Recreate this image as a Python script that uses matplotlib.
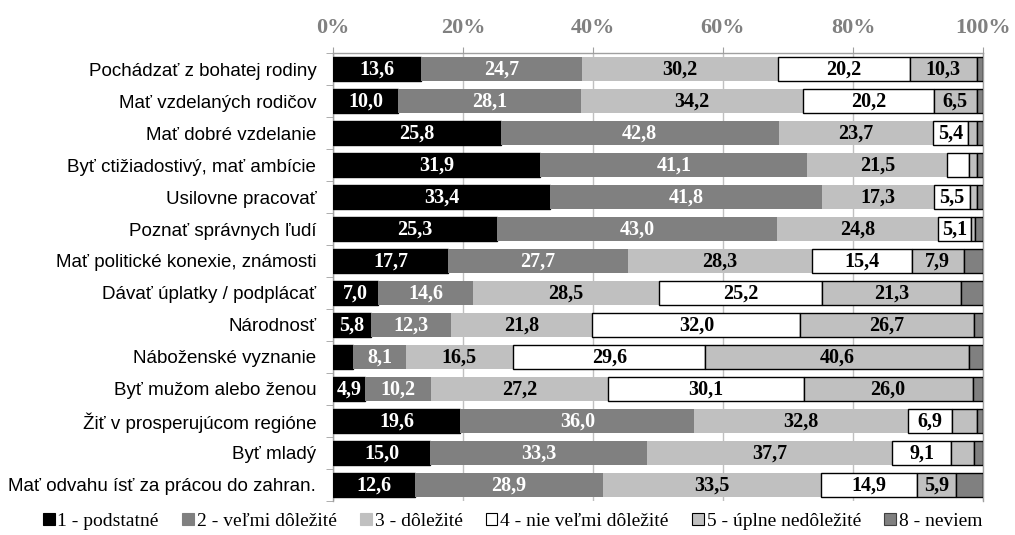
import matplotlib
matplotlib.use("Agg")
import matplotlib.pyplot as plt
from matplotlib.patches import Patch
import numpy as np

categories = [
    "Pochádzať z bohatej rodiny",
    "Mať vzdelaných rodičov",
    "Mať dobré vzdelanie",
    "Byť ctižiadostivý, mať ambície",
    "Usilovne pracovať",
    "Poznať správnych ľudí",
    "Mať politické konexie, známosti",
    "Dávať úplatky / podplácať",
    "Národnosť",
    "Náboženské vyznanie",
    "Byť mužom alebo ženou",
    "Žiť v prosperujúcom regióne",
    "Byť mladý",
    "Mať odvahu ísť za prácou do zahran.",
]

s1 = [13.6, 10.0, 25.8, 31.9, 33.4, 25.3, 17.7, 7.0, 5.8, 3.1, 4.9, 19.6, 15.0, 12.6]
s2 = [24.7, 28.1, 42.8, 41.1, 41.8, 43.0, 27.7, 14.6, 12.3, 8.1, 10.2, 36.0, 33.3, 28.9]
s3 = [30.2, 34.2, 23.7, 21.5, 17.3, 24.8, 28.3, 28.5, 21.8, 16.5, 27.2, 32.8, 37.7, 33.5]
s4 = [20.2, 20.2, 5.4, 3.3, 5.5, 5.1, 15.4, 25.2, 32.0, 29.6, 30.1, 6.9, 9.1, 14.9]
s5 = [10.3, 6.5, 1.4, 1.2, 1.1, 0.6, 7.9, 21.3, 26.7, 40.6, 26.0, 3.8, 3.5, 5.9]
s8 = [1.0, 1.0, 0.9, 1.0, 0.9, 1.2, 3.0, 3.4, 1.4, 2.1, 1.6, 0.9, 1.4, 4.2]

# which values are printed
lab1 = [True]*9 + [False] + [True]*4
lab4 = [True, True, True, False, True, True, True, True, True, True, True, True, True, True]
lab5 = [True, True, False, False, False, False, True, True, True, True, True, False, False, True]

series_names = ["1 - podstatné", "2 - veľmi dôležité", "3 - dôležité",
                "4 - nie veľmi dôležité", "5 - úplne nedôležité", "8 - neviem"]
tick_vals = [0, 20, 40, 60, 80, 100]
tick_labels = ["0%", "20%", "40%", "60%", "80%", "100%"]

series = [s1, s2, s3, s4, s5, s8]
facecolors = ["#000000", "#808080", "#c0c0c0", "#ffffff", "#c0c0c0", "#808080"]
edgecolors = ["#000000", "none", "none", "#000000", "#000000", "#000000"]
textcolors = ["white", "white", "black", "black", "black", None]
labelflags = [lab1, [True]*14, [True]*14, lab4, lab5, [False]*14]

fig = plt.figure(figsize=(10.15, 5.35), dpi=100)
ax = fig.add_axes([0.328, 0.0636, 0.6405, 0.8373])

y = np.arange(len(categories))
left = np.zeros(len(categories))
serif = ["Liberation Serif", "DejaVu Serif"]
for vals, fc, ec, tc, flags in zip(series, facecolors, edgecolors, textcolors, labelflags):
    vals = np.array(vals)
    ax.barh(y, vals, left=left, height=0.75, color=fc, edgecolor=ec,
            linewidth=1.0, zorder=3)
    if tc is not None:
        for i, (v, f) in enumerate(zip(vals, flags)):
            if f:
                ax.text(left[i] + v / 2, y[i] + 0.03, f"{v:.1f}".replace(".", ","),
                        ha="center", va="center", color=tc, fontsize=14.5,
                        fontweight="bold", family=serif, zorder=4)
    left += vals

ax.set_xlim(0, 100)
ax.set_ylim(len(categories) - 0.5, -0.5)
ax.xaxis.tick_top()
ax.set_xticks(tick_vals)
ax.set_xticklabels(tick_labels, fontsize=16, fontweight="bold",
                   color="#808080", family=serif)
ax.tick_params(axis="x", length=4, color="#a0a0a0", pad=7)
ax.set_yticks(y)
ax.set_yticklabels(categories, fontsize=13.5, family=["Liberation Sans", "DejaVu Sans"])
ax.tick_params(axis="y", length=0, pad=12)
ax.set_yticks(np.arange(-0.5, len(categories) + 0.5, 1), minor=True)
ax.tick_params(axis="y", which="minor", length=5, color="#a0a0a0")
ax.grid(axis="x", color="#c0c0c0", linewidth=1.0, zorder=0)
for sp in ["left", "top", "right"]:
    ax.spines[sp].set_color("#a0a0a0")
    ax.spines[sp].set_linewidth(1.0)
ax.spines["bottom"].set_visible(False)

handles = [
    Patch(facecolor="#000000", edgecolor="#000000", linewidth=0.8),
    Patch(facecolor="#808080", edgecolor="#808080", linewidth=0.8),
    Patch(facecolor="#c0c0c0", edgecolor="#c0c0c0", linewidth=0.8),
    Patch(facecolor="#ffffff", edgecolor="#000000", linewidth=0.8),
    Patch(facecolor="#c0c0c0", edgecolor="#000000", linewidth=0.8),
    Patch(facecolor="#808080", edgecolor="#404040", linewidth=0.8),
]
fig.legend(handles, series_names, loc="center", bbox_to_anchor=(0.505, 0.026),
           ncol=6, frameon=False, handlelength=0.6, handleheight=0.6,
           handletextpad=0.15, columnspacing=1.2,
           prop={"family": serif, "size": 14})

fig.savefig("out.png", dpi=100)
